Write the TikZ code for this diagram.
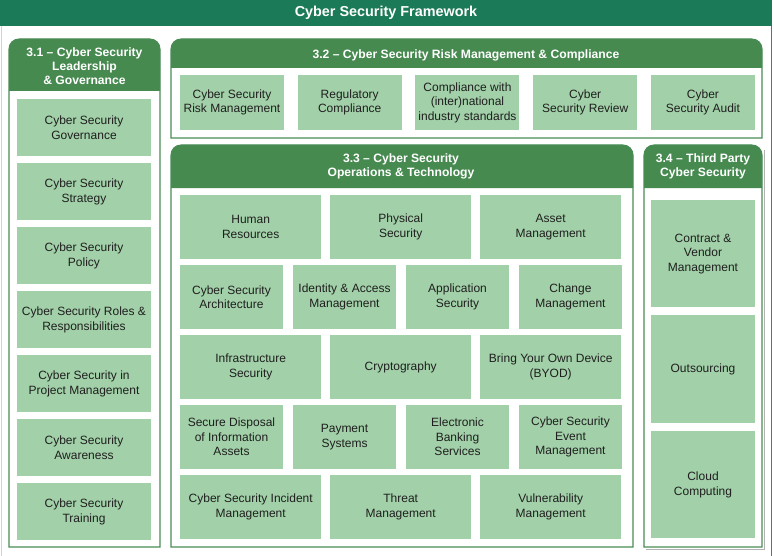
\documentclass[tikz,border=0pt]{standalone}
\usepackage{fontspec}
\setmainfont{Liberation Sans}
\usetikzlibrary{positioning}

\definecolor{titlegreen}{HTML}{1B7A57}
\definecolor{hdrgreen}{HTML}{468A50}
\definecolor{boxgreen}{HTML}{A2D0A8}
\definecolor{linegreen}{HTML}{4A8C55}
\definecolor{framegreen}{HTML}{3C8A4F}
\definecolor{txtgray}{HTML}{1F1F1F}

\tikzset{
	box/.style={rectangle, fill=boxgreen, text=txtgray, align=center, inner sep=1pt, outer sep=0pt, anchor=north west, font=\fontsize{9}{10.9}\selectfont},
	box31/.style={box, minimum width=100.5pt, minimum height=43.1pt},
	box32/.style={box, minimum width=78pt, minimum height=41.25pt},
	boxwide/.style={box, minimum width=106.1pt, minimum height=48pt},
	boxnarrow/.style={box, minimum width=77.25pt, minimum height=48pt},
	box34/.style={box, minimum width=78pt, minimum height=80.6pt},
	hdrtext/.style={text=white, align=center, font=\bfseries\fontsize{9.1}{10.6}\selectfont},
}

% panel: x1, x2, top, header bottom, bottom
\newcommand{\drawpanel}[5]{%
	\fill[white] (#1,#5) -- (#1,#3+10) arc[start angle=180, end angle=90, radius=7.5pt] -- (#2-10,#3) arc[start angle=90, end angle=0, radius=7.5pt] -- (#2,#5) -- cycle;
	\fill[hdrgreen] (#1,#4) -- (#1,#3+10) arc[start angle=180, end angle=90, radius=7.5pt] -- (#2-10,#3) arc[start angle=90, end angle=0, radius=7.5pt] -- (#2,#4) -- cycle;
	\draw[linegreen, line width=0.8pt] (#1,#5) -- (#1,#3+10) arc[start angle=180, end angle=90, radius=7.5pt] -- (#2-10,#3) arc[start angle=90, end angle=0, radius=7.5pt] -- (#2,#5) -- cycle;
}

\begin{document}
\begin{tikzpicture}[x=0.75pt, y=-0.75pt]
	\useasboundingbox (0,0) rectangle (774,556);
	\fill[white] (0,0) rectangle (774,556);
	
	% frame and title
	\draw[framegreen!30, line width=0.6pt] (1,26) -- (1,556);
	\draw[framegreen, line width=0.8pt] (771.5,26) -- (771.5,556);
	\fill[titlegreen] (0,0) rectangle (772,26.5);
	\node[hdrtext, font=\bfseries\fontsize{10.8}{12}\selectfont] (title) at (386,13) {Cyber Security Framework};
	
	% panels
	\drawpanel{9}{160}{39}{91}{547}
	\drawpanel{171}{762}{39}{68}{138}
	\drawpanel{171}{633}{145}{188}{547}
	\draw[gray!60, line width=0.6pt] (646,549) -- (764,549) -- (764,150);
	\drawpanel{644}{762}{145}{188}{547}
	
	\node[hdrtext] (h31) at (84.5,66) {3.1 -- Cyber Security\\Leadership\\\& Governance};
	\node[hdrtext] (h32) at (466,55) {3.2 -- Cyber Security Risk Management \& Compliance};
	\node[hdrtext] (h33) at (401,166) {3.3 -- Cyber Security\\Operations \& Technology};
	\node[hdrtext] (h34) at (703,166) {3.4 -- Third Party\\Cyber Security};
	
	% 3.1
	\node[box31] (gov) at (17,99) {Cyber Security\\Governance};
	\node[box31, below=4.9pt of gov] (strat) {Cyber Security\\Strategy};
	\node[box31, below=4.9pt of strat] (pol) {Cyber Security\\Policy};
	\node[box31, below=4.9pt of pol] (roles) {Cyber Security Roles \&\\Responsibilities};
	\node[box31, below=4.9pt of roles] (proj) {Cyber Security in\\Project Management};
	\node[box31, below=4.9pt of proj] (aware) {Cyber Security\\Awareness};
	\node[box31, below=4.9pt of aware] (train) {Cyber Security\\Training};
	
	% 3.2
	\node[box32] (risk) at (180,75) {Cyber Security\\Risk Management};
	\node[box32, right=10.3pt of risk] (reg) {Regulatory\\Compliance};
	\node[box32, right=10.3pt of reg] (std) {Compliance with\\(inter)national\\industry standards};
	\node[box32, right=10.3pt of std] (review) {Cyber\\Security Review};
	\node[box32, right=10.3pt of review] (audit) {Cyber\\Security Audit};
	
	% 3.3
	\node[boxwide] (hr) at (180,195) {Human\\Resources};
	\node[boxwide, right=6.4pt of hr] (phys) {Physical\\Security};
	\node[boxwide, right=6.4pt of phys] (asset) {Asset\\Management};
	
	\node[boxnarrow] (arch) at (180,265) {Cyber Security\\Architecture};
	\node[boxnarrow, right=7.5pt of arch] (iam) {Identity \& Access\\Management};
	\node[boxnarrow, right=7.5pt of iam] (app) {Application\\Security};
	\node[boxnarrow, right=7.5pt of app] (change) {Change\\Management};
	
	\node[boxwide] (infra) at (180,335) {Infrastructure\\Security};
	\node[boxwide, right=6.4pt of infra] (crypto) {Cryptography};
	\node[boxwide, right=6.4pt of crypto] (byod) {Bring Your Own Device\\(BYOD)};
	
	\node[boxnarrow] (disp) at (180,405) {Secure Disposal\\of Information\\Assets};
	\node[boxnarrow, right=7.5pt of disp] (pay) {Payment\\Systems};
	\node[boxnarrow, right=7.5pt of pay] (ebank) {Electronic\\Banking\\Services};
	\node[boxnarrow, right=7.5pt of ebank] (event) {Cyber Security\\Event\\Management};
	
	\node[boxwide] (incid) at (180,475) {Cyber Security Incident\\Management};
	\node[boxwide, right=6.4pt of incid] (threat) {Threat\\Management};
	\node[boxwide, right=6.4pt of threat] (vuln) {Vulnerability\\Management};
	
	% 3.4
	\node[box34] (vendor) at (651,200) {Contract \&\\Vendor\\Management};
	\node[box34, below=6pt of vendor] (outs) {Outsourcing};
	\node[box34, below=6pt of outs] (cloud) {Cloud\\Computing};
\end{tikzpicture}
\end{document}
